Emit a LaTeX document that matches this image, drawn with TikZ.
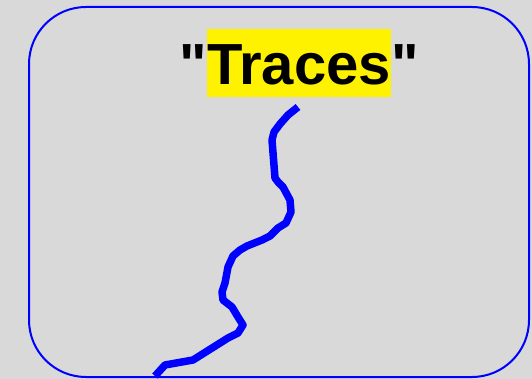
\documentclass[tikz,border=0pt]{standalone}
\usepackage{fontspec}
\setmainfont{Liberation Sans}
\newfontfamily\titlefont{Liberation Sans}[Ligatures=TeXOff]
\definecolor{bg}{HTML}{D9D9D9}
\definecolor{pureblue}{HTML}{0000FF}
\tikzset{
  frame/.style={draw=pureblue, line width=2pt, rounded corners=57pt},
  trace/.style={draw=pureblue, line width=7.5pt, line join=round},
  titletext/.style={font=\titlefont\fontsize{58pt}{60pt}\selectfont\bfseries, inner sep=0pt, text height=56pt, text depth=12pt},
}
\begin{document}
\begin{tikzpicture}[x=1pt,y=-1pt]
\fill[bg] (0,0) rectangle (532,379);
\useasboundingbox (0,0) rectangle (532,379);
\draw[frame] (29,7) rectangle (529,377);
\node[titletext, fill=yellow, anchor=base] (title) at (299,85) {Traces};
\node[titletext, anchor=base east] (lq) at (title.base west) {"};
\node[titletext, anchor=base west] (rq) at (title.base east) {"};
\draw[trace] (298,107) -- (288,115) -- (280,124) -- (274,132) -- (272,140) -- (275,178) -- (278,182) -- (283,187) -- (290,200) -- (291,212) -- (286,223) -- (278,228) -- (270,236) -- (262,240) -- (247,246) -- (240,250) -- (233,256) -- (228,267) -- (225,283) -- (222,292) -- (223,300) -- (232,307) -- (238,317) -- (243,325) -- (238,333) -- (228,338) -- (193,360) -- (165,365) -- (155,376);
\end{tikzpicture}
\end{document}
